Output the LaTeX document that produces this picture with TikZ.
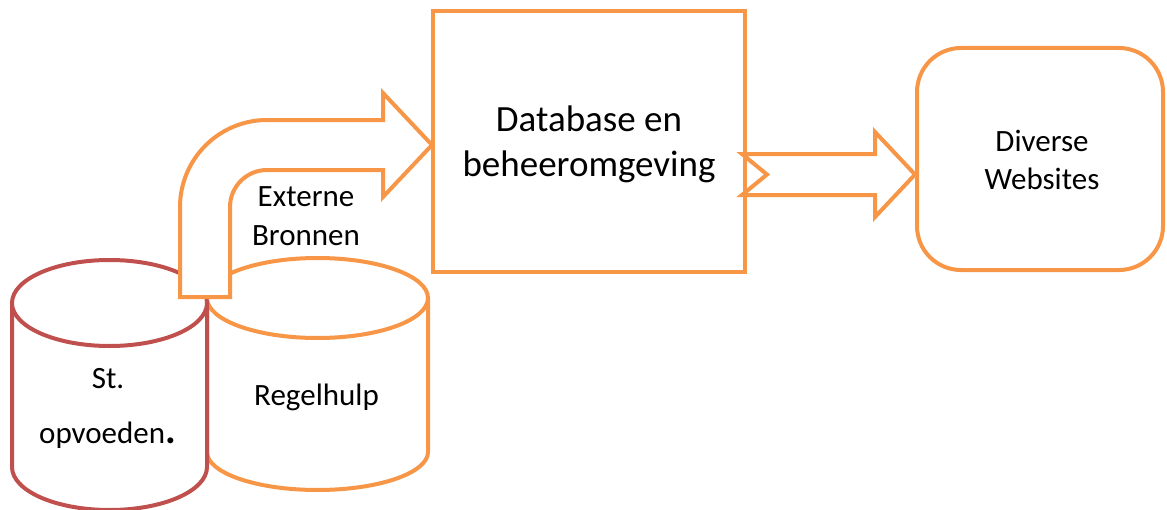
\documentclass[tikz,border=0pt]{standalone}
\usepackage{fontspec}
\setmainfont{Carlito}
\definecolor{acorange}{HTML}{F79646}
\definecolor{acred}{HTML}{C0504D}
\begin{document}
\begin{tikzpicture}[x=0.75pt,y=0.75pt,
  oline/.style={draw=acorange, line width=3pt, line join=miter},
  rline/.style={draw=acred, line width=3pt},
  lbl/.style={anchor=base, inner sep=0pt, font=\fontsize{23.25}{28}\selectfont},
  biglbl/.style={anchor=base, inner sep=0pt, font=\fontsize{27.75}{33}\selectfont}]
\useasboundingbox (0,0) rectangle (1167,-510);

% Regelhulp cylinder (orange)
\path[oline, fill=white] (207,-298) -- (207,-452)
  arc[start angle=180, end angle=360, x radius=82.875pt, y radius=28.5pt] -- (428,-298);
\draw[oline, fill=white] (317.5,-298) ellipse [x radius=82.875pt, y radius=30pt];

% St. opvoeden cylinder (red)
\path[rline, fill=white] (12,-303) -- (12,-467)
  arc[start angle=180, end angle=360, x radius=73.125pt, y radius=32.25pt] -- (207,-303);
\draw[rline, fill=white] (109.5,-303) ellipse [x radius=73.125pt, y radius=32.25pt];

% bent block arrow
\draw[oline, fill=white] (180,-297) -- (180,-207)
  .. controls (180,-159) and (219,-120) .. (267,-120) -- (383,-120) -- (383,-93)
  -- (432,-145) -- (383,-197) -- (383,-170) -- (267,-170)
  .. controls (246.6,-170) and (230,-186.6) .. (230,-207) -- (230,-297) -- cycle;

% Database box
\node[oline, rectangle, minimum width=234pt, minimum height=195.75pt, inner sep=0pt] (db) at (589,-141.5) {};
% Diverse websites box
\node[oline, rectangle, rounded corners=33pt, minimum width=184.5pt, minimum height=166.5pt, inner sep=0pt] (web) at (1040,-159) {};

% right block arrow
\draw[oline] (742,-154) -- (875,-154) -- (875,-132) -- (915,-174.5) -- (875,-217)
  -- (875,-195) -- (742,-195) -- (767,-174.5) -- cycle;

% texts
\node[biglbl] (db1) at (589,-131.7) {Database en};
\node[biglbl] (db2) at (589,-176.7) {beheeromgeving};
\node[lbl] (w1) at (1042,-151.7) {Diverse};
\node[lbl] (w2) at (1042,-189.4) {Websites};
\node[lbl] (e1) at (306,-206.7) {Externe};
\node[lbl] (e2) at (306,-245.7) {Bronnen};
\node[lbl] (rh) at (316.5,-405) {Regelhulp};
\node[lbl] (so1) at (108,-388) {St.};
\node[lbl] (so2) at (107.5,-443.3) {opvoeden{\fontsize{30}{30}\selectfont\bfseries.}};
\end{tikzpicture}
\end{document}
